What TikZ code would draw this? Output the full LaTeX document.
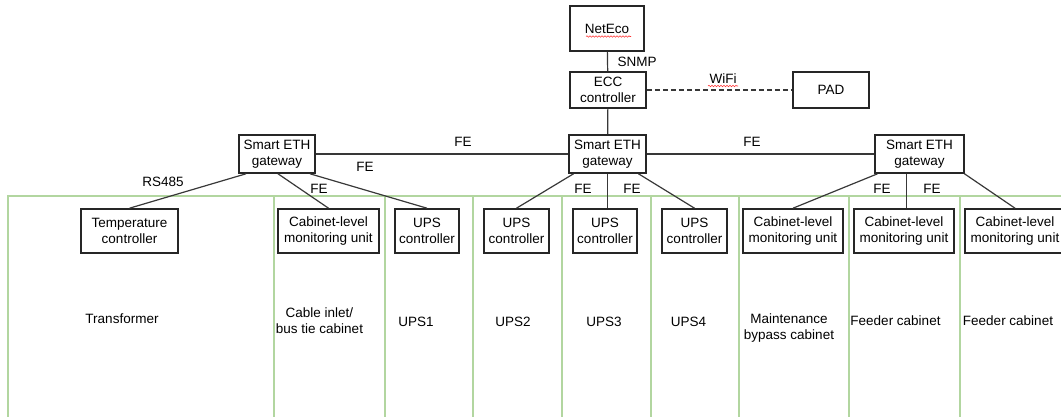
\documentclass[tikz,border=0pt]{standalone}
\usepackage{fontspec}
\setmainfont{Liberation Sans}
\usetikzlibrary{shadows}
\usetikzlibrary{decorations.pathmorphing}
\definecolor{panelgreen}{RGB}{178,214,160}

\begin{document}
\begin{tikzpicture}[x=1pt,y=-1pt,font=\fontsize{13.5}{16}\selectfont,
    box/.style={draw=black!85,line width=1.6pt,fill=white,align=center,inner sep=0pt,
      drop shadow={shadow xshift=1.3pt,shadow yshift=-1.3pt,fill=black,opacity=0.2}},
    link/.style={draw=black!78,line width=1.2pt},
    panel/.style={draw=panelgreen,line width=1.2pt},
    squiggle/.style={draw=red!80,line width=0.6pt,decorate,
      decoration={snake,amplitude=0.7pt,segment length=3pt}}]
    \useasboundingbox (0,0) rectangle (1061,417);
    \clip (0,0) rectangle (1061,417);

    \foreach \a/\b in {8/274,274/385,385/473,473/562,562/651,651/739,739/849,849/960,960/1100}
      \draw[panel] (\a,196) rectangle (\b,430);

    \node[box,minimum width=74pt,minimum height=45pt] (ne) at (607,28.5) {NetEco};
    \node[box,minimum width=76pt,minimum height=36pt] (ecc) at (608,90) {ECC\\controller};
    \node[box,minimum width=76pt,minimum height=36pt] (pad) at (831,90) {PAD};
    \node[box,minimum width=76pt,minimum height=38pt] (gl) at (277,154) {Smart ETH\\gateway};
    \node[box,minimum width=77pt,minimum height=38pt] (gc) at (607.5,154) {Smart ETH\\gateway};
    \node[box,minimum width=89pt,minimum height=38pt] (gr) at (919.5,154) {Smart ETH\\gateway};

    \node[box,minimum width=97pt,minimum height=44pt] (tc) at (129.5,231) {Temperature\\controller};
    \node[box,minimum width=101pt,minimum height=44pt] (cm1) at (328.5,231) {Cabinet-level\\monitoring unit};
    \node[box,minimum width=64pt,minimum height=44pt] (ups1) at (427,231) {UPS\\controller};
    \node[box,minimum width=65pt,minimum height=44pt] (ups2) at (516.5,231) {UPS\\controller};
    \node[box,minimum width=64pt,minimum height=44pt] (ups3) at (605,231) {UPS\\controller};
    \node[box,minimum width=65pt,minimum height=44pt] (ups4) at (694.5,231) {UPS\\controller};
    \node[box,minimum width=100pt,minimum height=44pt] (cm2) at (793,231) {Cabinet-level\\monitoring unit};
    \node[box,minimum width=100pt,minimum height=44pt] (cm3) at (904,231) {Cabinet-level\\monitoring unit};
    \node[box,minimum width=100pt,minimum height=44pt] (cm4) at (1015,231) {Cabinet-level\\monitoring unit};

    \draw[link] (ne) to (ecc);
    \draw[link] (ecc) to (gc);
    \draw[link,dashed,dash pattern=on 5pt off 3pt] (ecc) to (pad);
    \draw[link] (gl) to (gc);
    \draw[link] (gc) to (gr);
    \draw[link] ([xshift=-31pt]gl.south) to (tc.north);
    \draw[link] ([xshift=1pt]gl.south) to (cm1.north);
    \draw[link] ([xshift=33pt]gl.south) to (ups1.north);
    \draw[link] ([xshift=-34pt]gc.south) to (ups2.north);
    \draw[link] (gc.south) to (ups3.north -| gc.south);
    \draw[link] ([xshift=31pt]gc.south) to (ups4.north);
    \draw[link] ([xshift=-42pt]gr.south) to (cm2.north);
    \draw[link] ([xshift=-13pt]gr.south) to ([xshift=-13pt]gr.south |- cm3.north);
    \draw[link] ([xshift=45pt]gr.south) to (cm4.north);

    \node (snmp) at (637,62) {SNMP};
    \node (wifi) at (723,79) {WiFi};
    \node (fe1) at (463,142) {FE};
    \node (fe2) at (365,167) {FE};
    \node (fe3) at (752,142) {FE};
    \node (rs) at (163,182) {RS485};
    \node (fe4) at (319,189) {FE};
    \node (fe5) at (583,189) {FE};
    \node (fe6) at (632,189) {FE};
    \node (fe7) at (882,189) {FE};
    \node (fe8) at (932,189) {FE};

    \draw[squiggle] ([xshift=-21pt,yshift=-8pt]ne.center) -- ([xshift=24pt,yshift=-8pt]ne.center);
    \draw[squiggle] ([xshift=-15pt,yshift=-7pt]wifi.center) -- ([xshift=15pt,yshift=-7pt]wifi.center);

    \node (trf) at (122,319) {Transformer};
    \node[align=center] (cab) at (319.5,321) {Cable inlet/\\bus tie cabinet};
    \node (p1) at (416,322) {UPS1};
    \node (p2) at (513,322) {UPS2};
    \node (p3) at (604,322) {UPS3};
    \node (p4) at (688.5,322) {UPS4};
    \node[align=center] (mb) at (789,328) {Maintenance\\bypass cabinet};
    \node (fd1) at (895.5,321) {Feeder cabinet};
    \node (fd2) at (1008,321) {Feeder cabinet};
  \end{tikzpicture}
\end{document}
